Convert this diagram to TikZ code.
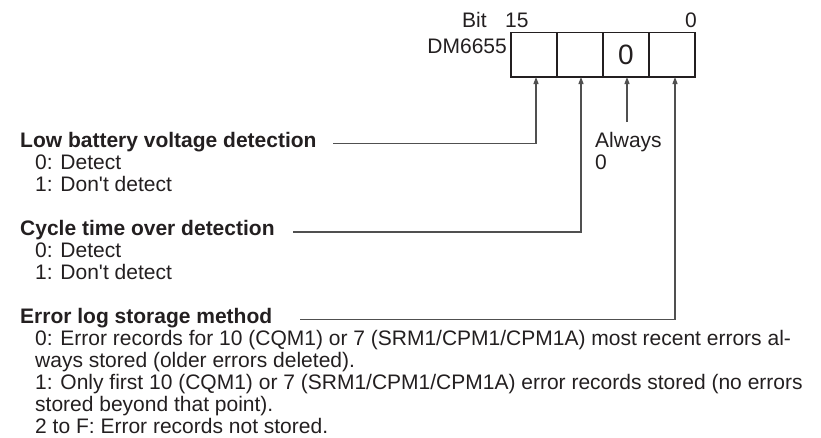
\documentclass[tikz,border=0pt]{standalone}
\usepackage{fontspec}
\setmainfont{Liberation Sans}
\usepackage{tikz}
\usetikzlibrary{arrows.meta,positioning}
\definecolor{ink}{RGB}{35,31,32}
\definecolor{wire}{RGB}{80,80,80}

\begin{document}
\begin{tikzpicture}[x=1pt,y=-1pt,
    txt/.style={anchor=base west,inner sep=0pt,text=ink,font=\fontsize{21}{22}\selectfont},
    head/.style={txt,font=\fontsize{21}{22}\selectfont\bfseries},
    cell/.style={rectangle,draw=ink,line width=1.2pt,minimum width=46pt,minimum height=44.5pt,
      inner sep=0pt,outer sep=0pt,text=ink,font=\fontsize{28}{30}\selectfont},
    a/.style={-{Triangle[length=7pt,width=5pt]},wire,line width=1.2pt}]
    \useasboundingbox (0,0) rectangle (821,437);
    % word DM6655
    \node[cell] (d3) at (534,54.75) {};
    \node[cell,right=0pt of d3] (d2) {};
    \node[cell,right=0pt of d2] (d1) {\raisebox{-2.5pt}{0}};
    \node[cell,right=0pt of d1] (d0) {};
    \node[txt] (bit) at (462,27) {Bit};
    \node[txt] (msb) at (505,27) {15};
    \node[txt,anchor=base east] (lsb) at (697,27) {0};
    \node[txt,anchor=base east] (dm) at (507,53) {DM6655};
    % settings
    \node[head] (bat) at (20,147) {Low battery voltage detection};
    \node[txt] (bat0) at (35,169) {0: Detect};
    \node[txt] (bat1) at (35,191) {1: Don\textquotesingle t detect};
    \node[head] (cyc) at (20,235) {Cycle time over detection};
    \node[txt] (cyc0) at (35,257) {0: Detect};
    \node[txt] (cyc1) at (35,279) {1: Don\textquotesingle t detect};
    \node[head] (log) at (20,323) {Error log storage method};
    \node[txt] (log0) at (35,345) {0: Error records for 10 (CQM1) or 7 (SRM1/CPM1/CPM1A) most recent errors al-};
    \node[txt] (log1) at (35,367) {ways stored (older errors deleted).};
    \node[txt] (log2) at (35,389) {1: Only first 10 (CQM1) or 7 (SRM1/CPM1/CPM1A) error records stored (no errors};
    \node[txt] (log3) at (35,411) {stored beyond that point).};
    \node[txt] (log4) at (35,433) {2 to F: Error records not stored.};
    \node[txt] (alw) at (595,147) {Always};
    \node[txt] (alw0) at (595,169) {0};
    % leaders
    \coordinate (batend) at (333,143.5);
    \coordinate (cycend) at (293,232);
    \coordinate (logend) at (300,319.5);
    \coordinate (alwtop) at (627,122);
    \draw[a] (batend) -| ([xshift=2pt]d3.south);
    \draw[a] (cycend) -| ([xshift=1pt]d2.south);
    \draw[a] (alwtop) -- (alwtop |- d1.south);
    \draw[a] (logend) -| ([xshift=3pt]d0.south);
  \end{tikzpicture}
\end{document}
